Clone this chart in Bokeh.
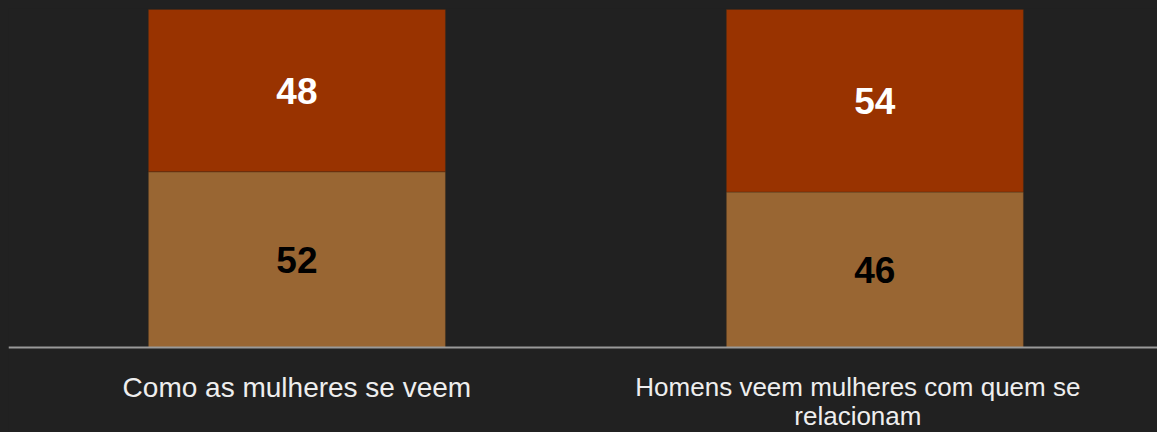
from bokeh.plotting import figure
from bokeh.models import ColumnDataSource, Range1d, Span
from bokeh.embed import file_html
from bokeh.resources import INLINE
from bokeh.core.properties import value

# ---- data ----
categories = ["Como as mulheres se veem", "Homens veem mulheres com quem se relacionam"]
tick_labels = ["Como as mulheres se veem", "Homens veem mulheres com quem se\nrelacionam"]
bottom_values = [52, 46]
top_values = [48, 54]

BG = "#212121"
C_BOTTOM = "#996633"
C_TOP = "#993300"

xs = [i + 0.5 for i in range(len(categories))]
tops_total = [b + t for b, t in zip(bottom_values, top_values)]
label_dx = [0, -17]            # horizontal nudge of the category captions (px)
label_size = ["28px", "26px"]  # caption font sizes

src = ColumnDataSource(dict(
    x=xs,
    b=bottom_values,
    t=top_values,
    total=tops_total,
    zero=[0] * len(xs),
    bmid=[b / 2 for b in bottom_values],
    tmid=[b + t / 2 for b, t in zip(bottom_values, top_values)],
    btxt=[str(v) for v in bottom_values],
    ttxt=[str(v) for v in top_values],
    cap=tick_labels,
    dx=label_dx,
    fs=label_size,
))

# frame covers the whole figure; value 0 sits 85 px above the bottom edge
H = 424
base_px = 85
scale = 100 / 338.0
p = figure(width=1149, height=H, output_backend="svg", toolbar_location=None,
           x_range=Range1d(0.001, 1.989),
           y_range=Range1d(-base_px * scale, (H - base_px) * scale),
           min_border=0)
p.background_fill_color = BG
p.border_fill_color = BG
p.outline_line_color = None
p.grid.visible = False
p.axis.visible = False

bar_w = 0.514
p.vbar(x="x", bottom="zero", top="b", width=bar_w, source=src,
       fill_color=C_BOTTOM, line_color="#3a2a1a", line_alpha=0.35, line_width=1)
p.vbar(x="x", bottom="b", top="total", width=bar_w, source=src,
       fill_color=C_TOP, line_color="#3a2a1a", line_alpha=0.35, line_width=1)

p.add_layout(Span(location=0, dimension="width", line_color="#9a9a9a", line_width=2))

p.text(x="x", y="bmid", text="btxt", source=src, text_align="center",
       text_baseline="middle", text_font=value("Liberation Sans"),
       text_font_style="bold", text_font_size="37px", text_color="#000000")
p.text(x="x", y="tmid", text="ttxt", source=src, text_align="center",
       text_baseline="middle", text_font=value("Liberation Sans"),
       text_font_style="bold", text_font_size="37px", text_color="#ffffff")

p.text(x="x", y="zero", text="cap", source=src, x_offset="dx", y_offset=24,
       text_align="center", text_baseline="top",
       text_font=value("Liberation Sans"), text_font_size="fs",
       text_color="#eeeeee", text_line_height=0.98)

html = file_html(p, INLINE)
html = html.replace("</head>",
                    "<style>html{background:%s;height:auto;} body{background:%s;margin:8px 0 0 8px !important;height:auto !important;}</style></head>" % (BG, BG), 1)
open("out.html", "w").write(html)
